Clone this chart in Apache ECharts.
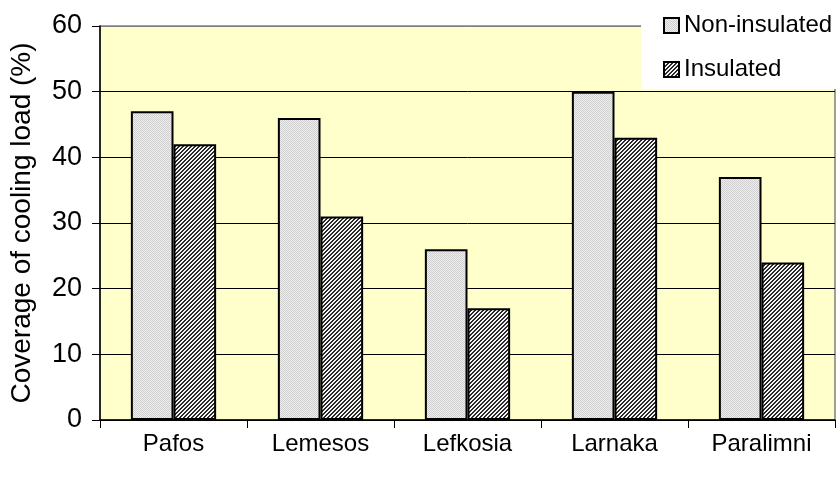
<!DOCTYPE html>
<html>
<head>
<meta charset="utf-8">
<script src="https://cdn.jsdelivr.net/npm/echarts@6/dist/echarts.min.js"></script>
<style>
  html, body { margin: 0; padding: 0; background: #fff; }
  #chart { width: 840px; height: 479px; }
</style>
</head>
<body>
<div id="chart"></div>
<script>
// Share of the cooling load covered, per town, with and without insulation
const towns = ['Pafos', 'Lemesos', 'Lefkosia', 'Larnaka', 'Paralimni'];
const nonInsulated = [47, 46, 26, 50, 37];
const insulated = [42, 31, 17, 43, 24];
const yTicks = [0, 10, 20, 30, 40, 50, 60];

const FONT = '"Liberation Sans", Arial, sans-serif';

// Fine light-grey stipple fill
function stipple() {
  const c = document.createElement('canvas');
  c.width = 2; c.height = 2;
  const g = c.getContext('2d');
  g.fillStyle = '#eeeeee'; g.fillRect(0, 0, 2, 2);
  g.fillStyle = '#cfcfcf'; g.fillRect(0, 0, 1, 1); g.fillRect(1, 1, 1, 1);
  return c;
}

// Dark diagonal hatch fill
function hatch() {
  const c = document.createElement('canvas');
  c.width = 4; c.height = 4;
  const g = c.getContext('2d');
  for (let x = 0; x < 4; x++) {
    for (let y = 0; y < 4; y++) {
      g.fillStyle = ((x + y) % 4) < 2 ? '#2a2a2a' : '#f4f4f4';
      g.fillRect(x, y, 1, 1);
    }
  }
  return c;
}

const chart = echarts.init(document.getElementById('chart'), null, { renderer: 'canvas' });

chart.setOption({
  animation: false,
  backgroundColor: '#ffffff',
  textStyle: { fontFamily: FONT, color: '#000' },
  grid: {
    left: 97, right: 5, top: 26, bottom: 59,
    show: true,
    backgroundColor: '#ffffcc',
    borderColor: '#808080',
    borderWidth: 1.5
  },
  graphic: [{
    type: 'rect',
    left: 641, top: 0,
    shape: { width: 199, height: 89 },
    style: { fill: '#ffffff' },
    z: 5
  }],
  legend: {
    orient: 'vertical',
    left: 658, top: 8,
    icon: 'rect',
    itemWidth: 15, itemHeight: 15,
    itemGap: 19,
    z: 10,
    textStyle: { fontFamily: FONT, fontSize: 24, color: '#000', lineHeight: 25 },
    data: ['Non-insulated', 'Insulated']
  },
  xAxis: {
    type: 'category',
    data: towns,
    axisLine: { lineStyle: { color: '#000', width: 1.5 } },
    axisTick: { show: true, length: 8, lineStyle: { color: '#000', width: 1 } },
    axisLabel: { interval: 0, fontFamily: FONT, fontSize: 24, color: '#000', margin: 12 },
    splitLine: { show: false }
  },
  yAxis: {
    type: 'value',
    min: yTicks[0], max: yTicks[yTicks.length - 1], interval: 10,
    name: 'Coverage of cooling load (%)',
    nameLocation: 'middle',
    nameRotate: 90,
    nameGap: 64,
    nameTextStyle: { fontFamily: FONT, fontSize: 28, color: '#000' },
    axisLine: { show: true, lineStyle: { color: '#000', width: 1.5 } },
    axisTick: { show: true, length: 8, lineStyle: { color: '#000', width: 1 } },
    axisLabel: { fontFamily: FONT, fontSize: 27, color: '#000', margin: 18 },
    splitLine: {
      show: true,
      lineStyle: { color: ['#000', '#000', '#000', '#000', '#000', '#000', '#808080'], width: 1 }
    }
  },
  series: [
    {
      name: 'Non-insulated',
      type: 'bar',
      data: nonInsulated,
      barGap: '0%',
      barCategoryGap: '42%',
      itemStyle: { color: { image: stipple(), repeat: 'repeat' }, borderColor: '#000', borderWidth: 2 }
    },
    {
      name: 'Insulated',
      type: 'bar',
      data: insulated,
      itemStyle: { color: { image: hatch(), repeat: 'repeat' }, borderColor: '#000', borderWidth: 2 }
    }
  ]
});
</script>
</body>
</html>
